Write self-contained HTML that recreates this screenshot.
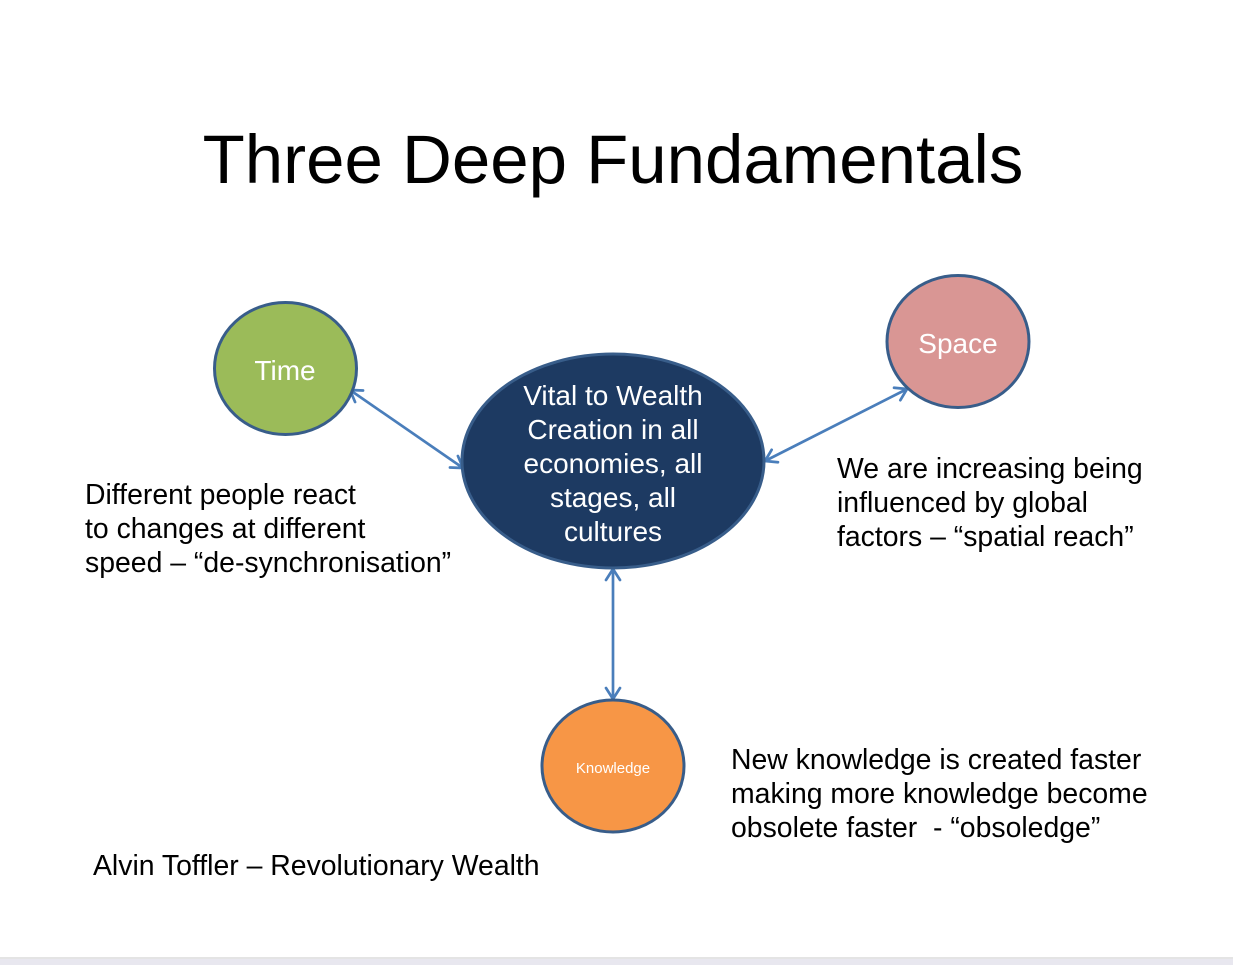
<!DOCTYPE html>
<html>
<head>
<meta charset="utf-8">
<style>
  html, body { margin:0; padding:0; background:#fff; }
  body { width:1233px; height:965px; overflow:hidden; position:relative; }
  svg { position:absolute; left:0; top:0; }
  text { font-family: "Liberation Sans", Arial, sans-serif; }
</style>
</head>
<body>
<svg width="1233" height="965" viewBox="0 0 1233 965" xmlns="http://www.w3.org/2000/svg">
  <rect x="0" y="0" width="1233" height="965" fill="#ffffff"/>
  <rect x="0" y="957" width="1233" height="2" fill="#e4e4e4"/>
  <rect x="0" y="959" width="1233" height="6" fill="#e8e7ef"/>

  <!-- Title -->
  <text x="613" y="183" font-size="69" text-anchor="middle" fill="#000">Three Deep Fundamentals</text>

  <!-- Connectors -->
  <g stroke="#4a7ebb" stroke-width="2.7" fill="none" stroke-linecap="round" stroke-linejoin="round">
    <line x1="350" y1="390" x2="463" y2="468"/>
    <path d="M449.97,467.51 L463,468 L457.93,455.99"/>
    <path d="M355.07,402.01 L350,390 L363.03,390.49"/>

    <line x1="907" y1="389" x2="765" y2="461"/>
    <path d="M771.65,449.79 L765,461 L777.97,462.27"/>
    <path d="M894.03,387.73 L907,389 L900.35,400.21"/>

    <line x1="613" y1="569" x2="613" y2="699"/>
    <path d="M606,688 L613,699 L620,688"/>
    <path d="M606,580 L613,569 L620,580"/>
  </g>

  <!-- Nodes -->
  <g stroke="#385d8a" stroke-width="3">
    <ellipse cx="285.5" cy="368.5" rx="71" ry="66" fill="#9bbb59"/>
    <ellipse cx="613" cy="461" rx="151" ry="107" fill="#1d3a62"/>
    <ellipse cx="958" cy="341.5" rx="71" ry="66" fill="#d99694"/>
    <ellipse cx="613" cy="766" rx="71" ry="66" fill="#f79646"/>
  </g>

  <!-- Node labels -->
  <g fill="#ffffff" text-anchor="middle">
    <text x="285" y="380" font-size="28">Time</text>
    <text x="958" y="353" font-size="28">Space</text>
    <text x="613" y="773" font-size="15">Knowledge</text>
    <text x="613" y="405" font-size="28">Vital to Wealth</text>
    <text x="613" y="439" font-size="28">Creation in all</text>
    <text x="613" y="473" font-size="28">economies, all</text>
    <text x="613" y="507" font-size="28">stages, all</text>
    <text x="613" y="541" font-size="28">cultures</text>
  </g>

  <!-- Annotations -->
  <g fill="#000" font-size="28.4">
    <text x="85" y="504">Different people react</text>
    <text x="85" y="538">to changes at different</text>
    <text x="85" y="572">speed – “de-synchronisation”</text>

    <text x="837" y="478">We are increasing being</text>
    <text x="837" y="512">influenced by global</text>
    <text x="837" y="546">factors – “spatial reach”</text>

    <text x="731" y="769">New knowledge is created faster</text>
    <text x="731" y="803">making more knowledge become</text>
    <text x="731" y="837" xml:space="preserve">obsolete faster  - “obsoledge”</text>

    <text x="93" y="875">Alvin Toffler – Revolutionary Wealth</text>
  </g>
</svg>
</body>
</html>
